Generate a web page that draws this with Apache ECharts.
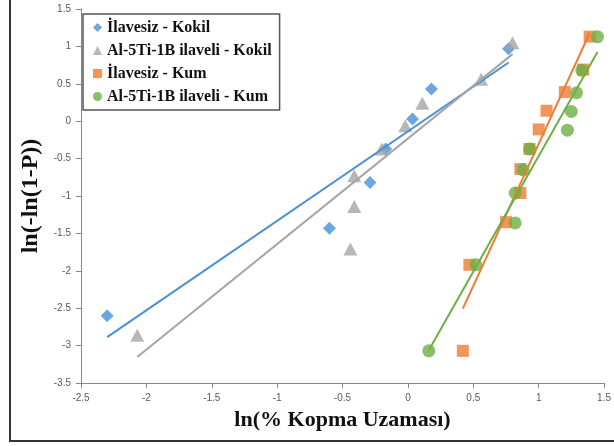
<!DOCTYPE html>
<html>
<head>
<meta charset="utf-8">
<script src="https://cdn.jsdelivr.net/npm/echarts@6/dist/echarts.min.js"></script>
<style>
  html, body { margin: 0; padding: 0; background: #fff; }
  #chart { width: 614px; height: 446px; }
</style>
</head>
<body>
<div id="chart"></div>
<script>
// Weibull plot: ln(% elongation) vs ln(-ln(1-P)) for four casting conditions
const seriesNames = [
  'İlavesiz - Kokil',
  'Al-5Ti-1B ilaveli - Kokil',
  'İlavesiz - Kum',
  'Al-5Ti-1B ilaveli - Kum'
];

const kokilPlainX = [-2.30, -0.60, -0.29, -0.17, 0.035, 0.18, 0.77];
const kokilPlainY = [-2.60, -1.43, -0.82, -0.37, 0.03, 0.43, 0.97];

const kokilTiBX = [-2.07, -0.44, -0.41, -0.41, -0.20, -0.02, 0.11, 0.56, 0.80];
const kokilTiBY = [-2.86, -1.71, -1.14, -0.73, -0.37, -0.06, 0.24, 0.56, 1.05];

const kumPlainX = [0.42, 0.47, 0.75, 0.86, 0.86, 0.93, 1.00, 1.06, 1.20, 1.34, 1.39];
const kumPlainY = [-3.07, -1.92, -1.35, -0.96, -0.64, -0.37, -0.11, 0.14, 0.39, 0.69, 1.13];

const kumTiBX = [0.16, 0.52, 0.82, 0.82, 0.88, 0.93, 1.22, 1.25, 1.29, 1.33, 1.45];
const kumTiBY = [-3.07, -1.92, -1.36, -0.96, -0.65, -0.37, -0.12, 0.13, 0.38, 0.68, 1.13];

const xTicks = { min: -2.5, max: 1.5, step: 0.5 };
const yTicks = { min: -3.5, max: 1.5, step: 0.5 };

const colors = ['#4A90D9', '#A5A5A5', '#EE7B30', '#6DAF45'];
const symbols = ['diamond', 'triangle', 'rect', 'circle'];
const symbolSizes = [13, [14, 13], 12, 13];

const sets = [
  [kokilPlainX, kokilPlainY],
  [kokilTiBX, kokilTiBY],
  [kumPlainX, kumPlainY],
  [kumTiBX, kumTiBY]
];

// least-squares linear trendline spanning the series' x range
function trend(xs, ys) {
  const n = xs.length;
  const mx = xs.reduce((a, b) => a + b, 0) / n;
  const my = ys.reduce((a, b) => a + b, 0) / n;
  let sxy = 0, sxx = 0;
  for (let i = 0; i < n; i++) {
    sxy += (xs[i] - mx) * (ys[i] - my);
    sxx += (xs[i] - mx) * (xs[i] - mx);
  }
  const b = sxy / sxx, a = my - b * mx;
  const x0 = Math.min(...xs), x1 = Math.max(...xs);
  return [[x0, a + b * x0], [x1, a + b * x1]];
}

const series = [];
sets.forEach((s, i) => {
  series.push({
    name: seriesNames[i],
    type: 'scatter',
    symbol: symbols[i],
    symbolSize: symbolSizes[i],
    itemStyle: { color: colors[i] },
    data: s[0].map((x, k) => [x, s[1][k]]),
    z: 2
  });
});
sets.forEach((s, i) => {
  series.push({
    name: seriesNames[i] + ' trend',
    type: 'line',
    data: trend(s[0], s[1]),
    symbol: 'none',
    lineStyle: { color: colors[i], width: 2 },
    silent: true,
    z: 3
  });
});

const axisGray = '#868686';
const tickLabel = { color: '#595959', fontFamily: 'Liberation Sans', fontSize: 10 };

const chart = echarts.init(document.getElementById('chart'));
chart.setOption({
  animation: false,
  backgroundColor: '#fff',
  grid: { left: 81, right: 8, top: 9, bottom: 63 },
  xAxis: {
    type: 'value',
    min: xTicks.min, max: xTicks.max, interval: xTicks.step,
    name: 'ln(% Kopma Uzaması)',
    nameLocation: 'middle',
    nameGap: 26,
    nameTextStyle: { fontFamily: 'Liberation Serif', fontWeight: 'bold', fontSize: 22, color: '#111' },
    axisLine: { onZero: false, lineStyle: { color: axisGray } },
    axisTick: { show: true, length: 5, lineStyle: { color: axisGray } },
    axisLabel: Object.assign({ margin: 10 }, tickLabel),
    splitLine: { show: false }
  },
  yAxis: {
    type: 'value',
    min: yTicks.min, max: yTicks.max, interval: yTicks.step,
    name: 'ln(-ln(1-P))',
    nameLocation: 'middle',
    nameGap: 36,
    nameTextStyle: { fontFamily: 'Liberation Serif', fontWeight: 'bold', fontSize: 24, color: '#111' },
    axisLine: { show: true, onZero: false, lineStyle: { color: axisGray } },
    axisTick: { show: true, length: 5, lineStyle: { color: axisGray } },
    axisLabel: Object.assign({ margin: 10 }, tickLabel),
    splitLine: { show: false }
  },
  legend: {
    data: seriesNames.map((n, i) => ({ name: n, icon: symbols[i] })),
    orient: 'vertical',
    left: 83,
    top: 14,
    padding: [5, 8, 5, 10],
    itemGap: 6,
    itemWidth: 9,
    itemHeight: 9,
    borderColor: '#555',
    borderWidth: 1.5,
    backgroundColor: '#fff',
    textStyle: { fontFamily: 'Liberation Serif', fontWeight: 'bold', fontSize: 16, color: '#111', lineHeight: 17 }
  },
  graphic: [{
    type: 'rect',
    shape: { x: 10, y: -10, width: 620, height: 451 },
    style: { fill: 'none', stroke: '#333', lineWidth: 2 },
    silent: true
  }],
  series: series
});
</script>
</body>
</html>
